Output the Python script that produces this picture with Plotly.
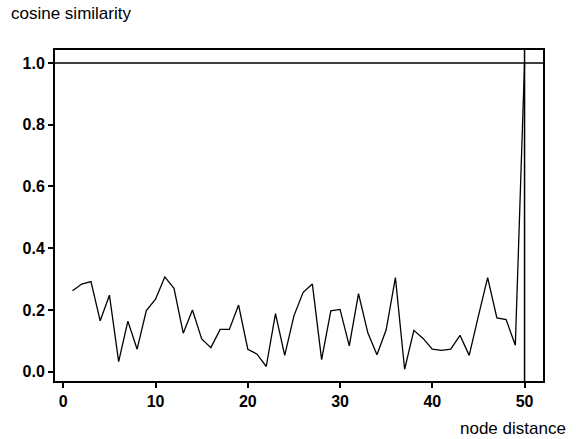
import plotly.graph_objects as go

node_distance = list(range(1, 51))
cosine_similarity = [
    0.262, 0.284, 0.292, 0.165, 0.248, 0.033, 0.164, 0.073, 0.198, 0.235,
    0.307, 0.270, 0.125, 0.200, 0.106, 0.078, 0.137, 0.137, 0.216, 0.073,
    0.057, 0.017, 0.188, 0.053, 0.181, 0.257, 0.284, 0.039, 0.197, 0.202,
    0.084, 0.253, 0.127, 0.055, 0.136, 0.305, 0.008, 0.134, 0.108, 0.073,
    0.069, 0.073, 0.118, 0.053, 0.181, 0.305, 0.174, 0.169, 0.086, 1.000,
]
ref_x = 50
ref_y = 1.0
x_ticks = [0, 10, 20, 30, 40, 50]
y_ticks = [0.0, 0.2, 0.4, 0.6, 0.8, 1.0]
y_tick_labels = ["0.0", "0.2", "0.4", "0.6", "0.8", "1.0"]

fig = go.Figure()
fig.add_trace(go.Scatter(
    x=node_distance, y=cosine_similarity, mode="lines",
    line=dict(color="black", width=1.3), showlegend=False,
))
fig.add_hline(y=ref_y, line=dict(color="black", width=1.5))
fig.add_vline(x=ref_x, line=dict(color="black", width=1.5))

axis_font = dict(family="Liberation Sans, Arial", size=16, color="black")
fig.update_xaxes(
    range=[-0.9, 52], tickvals=x_ticks, ticks="outside", ticklen=5, tickwidth=1.5,
    tickcolor="black", showline=True, linecolor="black", linewidth=2, mirror=True,
    showgrid=False, zeroline=False, tickfont=dict(axis_font, weight="bold"),
)
fig.update_yaxes(
    range=[-0.03, 1.042], tickvals=y_ticks, ticktext=y_tick_labels, ticks="outside",
    ticklen=5, tickwidth=1.5, tickcolor="black", showline=True, linecolor="black",
    linewidth=2, mirror=True, showgrid=False, zeroline=False,
    tickfont=dict(axis_font, weight="bold"),
)
fig.add_annotation(text="cosine similarity", xref="paper", yref="paper",
                   x=-0.094, y=1.11, xanchor="left", yanchor="middle", showarrow=False,
                   font=dict(family="Liberation Sans, Arial", size=17, color="black"))
fig.add_annotation(text="node distance", xref="paper", yref="paper",
                   x=1.051, y=-0.145, xanchor="right", yanchor="middle", showarrow=False,
                   font=dict(family="Liberation Sans, Arial", size=17, color="black"))
fig.update_layout(
    width=576, height=439, margin=dict(l=55, r=33, t=50, b=58),
    plot_bgcolor="white", paper_bgcolor="white",
)
fig.write_html("out.html")
